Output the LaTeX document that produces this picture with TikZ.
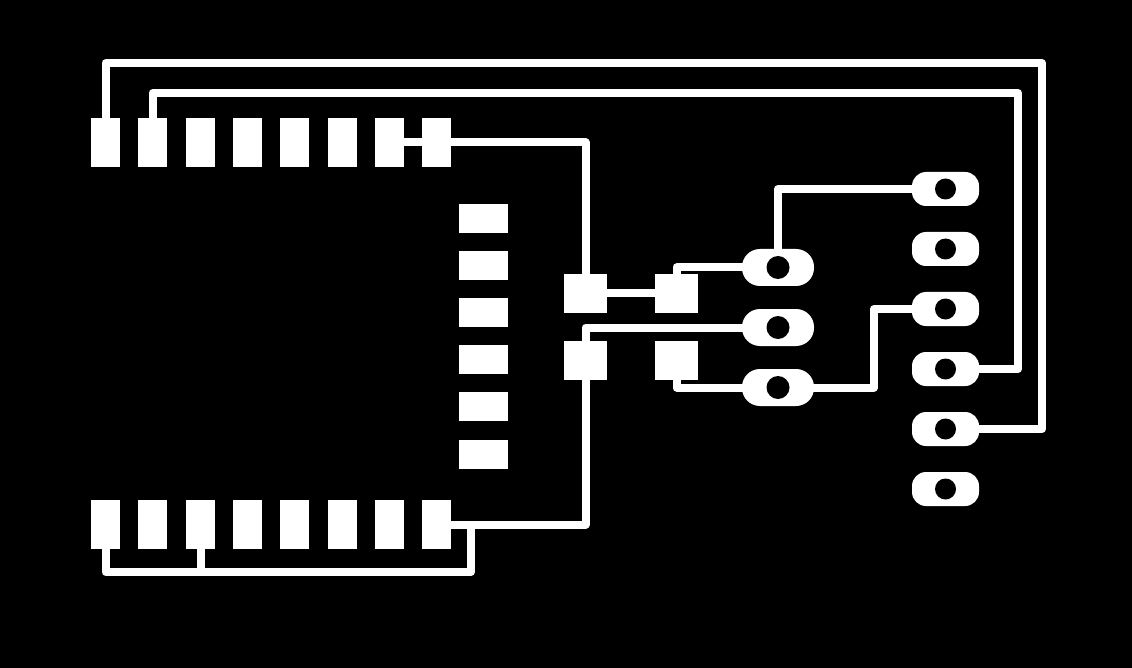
\documentclass[tikz,border=0pt]{standalone}
\tikzset{
  x=1pt,y=-1pt,
  padtall/.style={fill=white,inner sep=0pt,minimum width=29pt,minimum height=49pt},
  padwide/.style={fill=white,inner sep=0pt,minimum width=49pt,minimum height=29pt},
  padsq/.style={fill=white,inner sep=0pt,minimum width=43pt,minimum height=38.5pt},
  ovalA/.style={rectangle,rounded corners=18pt,fill=white,inner sep=0pt,minimum width=72pt,minimum height=37pt},
  ovalB/.style={rectangle,rounded corners=14pt,fill=white,inner sep=0pt,minimum width=67pt,minimum height=34pt},
  holeA/.style={circle,fill=black,inner sep=0pt,minimum size=23pt},
  holeB/.style={circle,fill=black,inner sep=0pt,minimum size=21pt},
  trace/.style={draw=white,line width=8pt,line join=round,line cap=butt},
}
\begin{document}
\begin{tikzpicture}
\fill[black] (0,0) rectangle (1132,668);
\useasboundingbox (0,0) rectangle (1132,668);
% top pad row
\foreach \n/\x in {1/105.5,2/152.5,3/200.5,4/247.5,5/294.5,6/342.5,7/389.5,8/436.5}
  \node[padtall] (t\n) at (\x,142.5) {};
% bottom pad row
\foreach \n/\x in {1/105.5,2/152.5,3/200.5,4/247.5,5/294.5,6/342.5,7/389.5,8/436.5}
  \node[padtall] (b\n) at (\x,524.5) {};
% side pad column
\foreach \n/\y in {1/218.5,2/265.5,3/312.5,4/359.5,5/406.5,6/454.5}
  \node[padwide] (s\n) at (483.5,\y) {};
% square pads
\node[padsq] (q1) at (585.5,293.25) {};
\node[padsq] (q2) at (676.5,293.25) {};
\node[padsq] (q3) at (585.5,360.5) {};
\node[padsq] (q4) at (676.5,360.5) {};
% centres of ovals
\coordinate (ca1) at (778,267.5);
\coordinate (ca2) at (778,327.5);
\coordinate (ca3) at (778,387.5);
\foreach \n/\y in {1/189,2/249,3/309,4/369,5/429,6/489}
  \coordinate (cb\n) at (945.5,\y);
% corners
\coordinate (r1) at (1042,63);
\coordinate (r2) at (1018,93);
\coordinate (m1) at (874,309);
\coordinate (g1) at (471,572);
% traces
\draw[trace] (t1.center) |- (r1) |- (cb5);
\draw[trace] (t2.center) |- (r2) |- (cb4);
\draw[trace] (t7.center) -- (t8.center) -| (q1.center);
\draw[trace] (q1.center) -- (q2.center);
\draw[trace] (q2.center) |- (ca1);
\draw[trace] (ca1) |- (cb1);
\draw[trace] (q3.center) |- (ca2);
\draw[trace] (q4.center) |- (ca3);
\draw[trace] (ca3) -| (m1) -- (cb3);
\draw[trace] (q3.center) |- (b8.center);
\draw[trace] (b1.center) |- (g1) |- (b8.center);
\draw[trace] (b3.center) -- (b3.center |- g1);
% ovals over traces
\node[ovalA] (oa1) at (ca1) {};
\node[ovalA] (oa2) at (ca2) {};
\node[ovalA] (oa3) at (ca3) {};
\foreach \n in {1,...,6}
  \node[ovalB] (ob\n) at (cb\n) {};
\node[holeA] (ha1) at (oa1) {};
\node[holeA] (ha2) at (oa2) {};
\node[holeA] (ha3) at (oa3) {};
\foreach \n in {1,...,6}
  \node[holeB] (hb\n) at (ob\n) {};
\end{tikzpicture}
\end{document}
